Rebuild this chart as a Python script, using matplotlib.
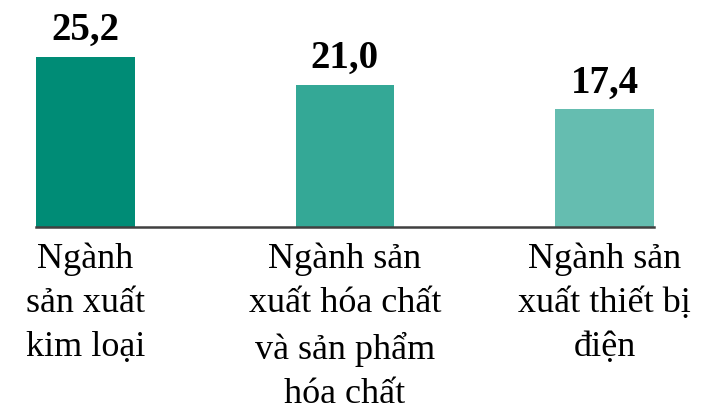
import matplotlib.pyplot as plt

categories = ['Ngành\nsản xuất\nkim loại',
              'Ngành sản\nxuất hóa chất\nvà sản phẩm\nhóa chất',
              'Ngành sản\nxuất thiết bị\nđiện']
values = [25.2, 21.0, 17.4]
value_labels = ['25,2', '21,0', '17,4']
colors = ['#008C76', '#34A896', '#65BDB0']

plt.rcParams['font.family'] = ['Liberation Serif', 'DejaVu Serif']

fig = plt.figure(figsize=(7.06, 4.11), dpi=100)
ax = fig.add_axes([0.051, 0.4477, 0.875, 0.5523])

x = range(len(values))
bars = ax.bar(x, values, width=0.38, color=colors)

for b, lab in zip(bars, value_labels):
    ax.text(b.get_x() + b.get_width() / 2, b.get_height() + 2.5, lab,
            ha='center', va='baseline', fontsize=28, fontweight='bold')

ax.set_xlim(-0.19, 2.19)
ax.set_ylim(0, 33.6)
ax.set_xticks(list(x))
ax.set_xticklabels(categories, fontsize=26, linespacing=1.44, va='top')
ax.tick_params(axis='x', length=0, pad=11)
ax.set_yticks([])
for s in ['top', 'right', 'left']:
    ax.spines[s].set_visible(False)
ax.spines['bottom'].set_color('#404040')
ax.spines['bottom'].set_linewidth(1.8)

fig.savefig('out.png', dpi=100)
